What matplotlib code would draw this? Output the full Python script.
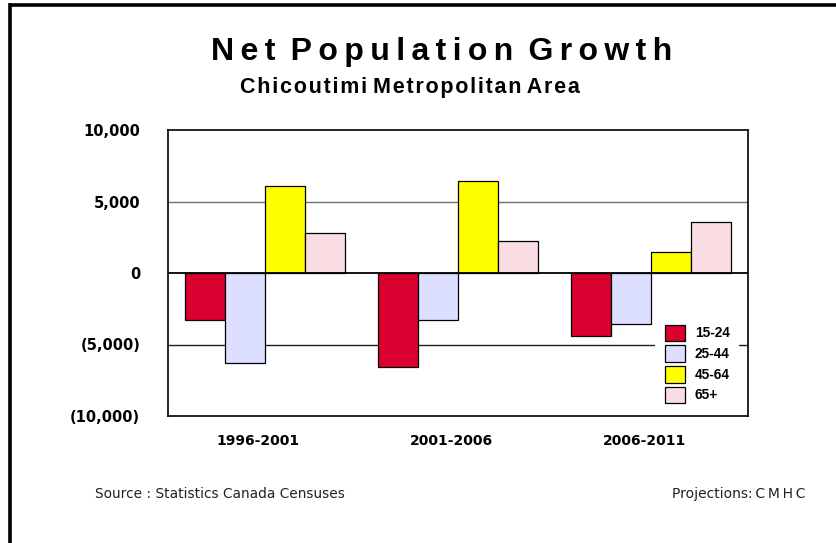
import numpy as np
import matplotlib
matplotlib.use('Agg')
import matplotlib.pyplot as plt
import matplotlib.transforms as mtransforms
from matplotlib.lines import Line2D

periods = ['1996-2001', '2001-2006', '2006-2011']
age_groups = ['15-24', '25-44', '45-64', '65+']
growth_15_24 = [-3300, -6600, -4400]
growth_25_44 = [-6300, -3300, -3550]
growth_45_64 = [6050, 6400, 1500]
growth_65_plus = [2800, 2250, 3600]
y_ticks = [-10000, -5000, 0, 5000, 10000]
y_tick_labels = ['(10,000)', '(5,000)', '0', '5,000', '10,000']

colors = ['#DA0030', '#DCDFFF', '#FFFF00', '#FADDE2']
series = [growth_15_24, growth_25_44, growth_45_64, growth_65_plus]


def spaced(text, gap='\u2009', word_gap=' \u2009'):
    # crude letter spacing with thin spaces
    return word_gap.join(gap.join(w) for w in text.split(' '))


W, H = 837, 543
fig = plt.figure(figsize=(W / 100, H / 100), dpi=100)
ax = fig.add_axes([168 / W, 1 - 416 / H, 580 / W, 286 / H])

x = np.arange(len(periods))
bar_w = 0.207
for i, (vals, col, lab) in enumerate(zip(series, colors, age_groups)):
    offs = (i - 1.5) * bar_w
    ax.bar(x + offs, vals, bar_w, color=col, edgecolor='black', linewidth=0.9,
           label=lab, zorder=3)

ax.set_xlim(-0.5, 2.5)
ax.set_ylim(-10000, 10000)
ax.set_yticks(y_ticks)
ax.set_yticklabels(y_tick_labels, fontweight='bold', fontsize=10.5)
ax.set_xticks(x)
ax.set_xticklabels(periods, fontweight='bold', fontsize=10)
ax.tick_params(axis='y', length=0, pad=20)
ax.tick_params(axis='x', length=0, pad=13)
# category labels sit a little left of the bar groups
shift = mtransforms.ScaledTranslation(-7 / 100, 0, fig.dpi_scale_trans)
for lbl in ax.get_xticklabels():
    lbl.set_transform(lbl.get_transform() + shift)

# grid lines
ax.axhline(5000, color='#707070', linewidth=1, zorder=1)
ax.axhline(-5000, color='#202020', linewidth=1, zorder=1)
ax.axhline(0, color='black', linewidth=1.3, zorder=4)
for s in ax.spines.values():
    s.set_linewidth(1.2)
    s.set_color('black')

leg = ax.legend(loc='upper left', bbox_to_anchor=(0.84, 0.353), frameon=True,
                fancybox=False,
                prop={'weight': 'bold', 'size': 9.8, 'family': 'Liberation Sans'},
                handlelength=1.5, handleheight=1.5, labelspacing=0.3,
                handletextpad=0.7, borderpad=0.7, borderaxespad=0)
leg.get_frame().set_facecolor('white')
leg.get_frame().set_edgecolor('none')
leg.get_frame().set_alpha(1)
leg.set_zorder(2)

# titles
fig.text(442 / W, 1 - 52 / H, spaced('Net Population Growth'),
         ha='center', va='center', fontsize=23, fontweight='bold',
         family='Liberation Sans')
fig.text(410 / W, 1 - 87 / H, spaced('Chicoutimi Metropolitan Area', '\u200a', ' '),
         ha='center', va='center', fontsize=15.5, fontweight='bold',
         family='Liberation Sans')

fig.text(95 / W, 1 - 494 / H, 'Source : Statistics Canada Censuses',
         ha='left', va='center', fontsize=9.9, color='#222222')
fig.text(672 / W, 1 - 494 / H, 'Projections:\u2009C\u2009M\u2009H\u2009C', ha='left',
         va='center', fontsize=10, color='#222222')

# page border
fig.add_artist(Line2D([9 / W, 1], [1 - 5 / H, 1 - 5 / H], color='black',
                      linewidth=2.6, solid_capstyle='butt',
                      transform=fig.transFigure))
fig.add_artist(Line2D([10.5 / W, 10.5 / W], [0, 1 - 3 / H], color='black',
                      linewidth=2.6, solid_capstyle='butt',
                      transform=fig.transFigure))

fig.savefig('out.png', dpi=100)
